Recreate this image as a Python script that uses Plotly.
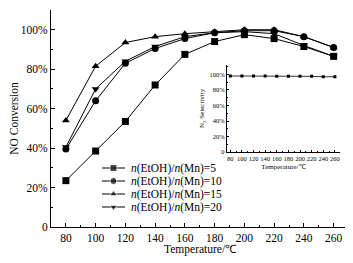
import plotly.graph_objects as go

temps = [80, 100, 120, 140, 160, 180, 200, 220, 240, 260]
conv_5 = [23.5, 38.5, 53.5, 72, 87.5, 94, 97.5, 95.5, 91.5, 86.5]
conv_10 = [39.5, 64, 83, 90.5, 95.5, 98.5, 99.5, 99.5, 96.5, 91]
conv_15 = [54, 81.5, 93.5, 96.5, 98, 99, 100, 100, 96.5, 91]
conv_20 = [40.5, 70, 84, 91.5, 96.5, 98.5, 99, 98, 92, 86.5]
n2_sel = [98, 98, 98, 98, 97.5, 97.5, 97.5, 97.5, 97, 97]

series_names = ["<i>n</i>(EtOH)/<i>n</i>(Mn)=5", "<i>n</i>(EtOH)/<i>n</i>(Mn)=10",
                "<i>n</i>(EtOH)/<i>n</i>(Mn)=15", "<i>n</i>(EtOH)/<i>n</i>(Mn)=20"]
y_tickvals = [0, 20, 40, 60, 80, 100]
y_ticktext = ["0", "20%", "40%", "60%", "80%", "100%"]
x_tickvals = [80, 100, 120, 140, 160, 180, 200, 220, 240, 260]

symbols = ["square", "circle", "triangle-up", "triangle-down"]
FONT = "Liberation Serif, Times New Roman, serif"
FS = 11.5

# page body has an 8px margin, so the figure is drawn 8px right/down
OFF = 8
W, H = 353 - OFF, 263 - OFF
ML, MR, MT, MB = 43, 3, 2, 36
PW, PH = W - ML - MR, H - MT - MB
SX0, SX1 = ML + OFF, W - MR + OFF       # plot area in screen px
SY0, SY1 = MT + OFF, H - MB + OFF

fig = go.Figure()
for name, vals, sym in zip(series_names, [conv_5, conv_10, conv_15, conv_20], symbols):
    fig.add_trace(go.Scatter(x=temps, y=vals, name=name, mode="lines+markers",
                             showlegend=False,
                             line=dict(color="black", width=1),
                             marker=dict(symbol=sym, size=7, color="black")))

fig.add_trace(go.Scatter(x=temps, y=n2_sel, mode="lines+markers", showlegend=False,
                         xaxis="x2", yaxis="y2",
                         line=dict(color="black", width=0.8),
                         marker=dict(symbol="square", size=3, color="black")))

# Compact legend (pixel-space helper axis so rows are 13px apart like the original)
leg_x0, leg_x1, leg_text_x = 102, 125, 129
leg_rows = [168, 181, 194, 207]
for name, sym, ry in zip(series_names, symbols, leg_rows):
    fig.add_trace(go.Scatter(x=[leg_x0, (leg_x0 + leg_x1) / 2, leg_x1], y=[ry, ry, ry],
                             mode="lines+markers", showlegend=False, hoverinfo="skip",
                             xaxis="x3", yaxis="y3",
                             line=dict(color="black", width=1),
                             marker=dict(symbol=sym, size=[0, 7, 0], color="black")))
    fig.add_annotation(x=leg_text_x, y=ry, xref="x3", yref="y3", text=name,
                       showarrow=False, xanchor="left", yanchor="middle",
                       font=dict(size=FS, family=FONT, color="black"))

axis_common = dict(showline=True, linecolor="black", linewidth=1, ticks="inside",
                   ticklen=4, tickcolor="black", showgrid=False, zeroline=False,
                   mirror=False, automargin=False)
inset_common = {**axis_common, "ticklen": 2, "linewidth": 0.8}

fig.add_annotation(x=0.5, y=(SY1 - 249.5) / PH, xref="paper", yref="paper",
                   text="Temperature/℃", showarrow=False, xanchor="center",
                   yanchor="middle", font=dict(size=FS, family=FONT, color="black"))

fig.update_layout(
    width=W, height=H,
    margin=dict(l=ML, r=MR, t=MT, b=MB, autoexpand=False),
    paper_bgcolor="white", plot_bgcolor="rgba(0,0,0,0)",
    font=dict(family=FONT, size=FS, color="black"),
    showlegend=False,
    xaxis=dict(range=[70, 271], tickvals=x_tickvals, tickangle=0,
               minor=dict(ticks="inside", ticklen=2, dtick=10, tickcolor="black"),
               **axis_common),
    yaxis=dict(range=[0, 110], tickvals=y_tickvals, ticktext=y_ticktext,
               minor=dict(ticks="inside", ticklen=2, dtick=10, tickcolor="black"),
               title=dict(text="NO Conversion", font=dict(size=FS), standoff=10),
               **axis_common),
    xaxis2=dict(domain=[0.588, 0.967], anchor="y2", range=[74, 269],
                tickvals=x_tickvals, tickfont=dict(size=6.5), tickangle=0,
                minor=dict(ticks="inside", ticklen=1.5, dtick=10, tickcolor="black"),
                title=dict(text="Temperature/℃", font=dict(size=7), standoff=3),
                **inset_common),
    yaxis2=dict(domain=[0.345, 0.748], anchor="x2", range=[0, 112.5],
                tickvals=y_tickvals, ticktext=y_ticktext, tickfont=dict(size=6.5),
                minor=dict(ticks="inside", ticklen=1.5, dtick=10, tickcolor="black"),
                title=dict(text="N<sub>2</sub> Selectivity", font=dict(size=7), standoff=3),
                **inset_common),
    xaxis3=dict(domain=[0, 1], anchor="y3", range=[SX0, SX1], visible=False,
                fixedrange=True),
    yaxis3=dict(domain=[0, 1], anchor="x3", range=[SY1, SY0], visible=False,
                fixedrange=True),
)

fig.write_html("out.html")
